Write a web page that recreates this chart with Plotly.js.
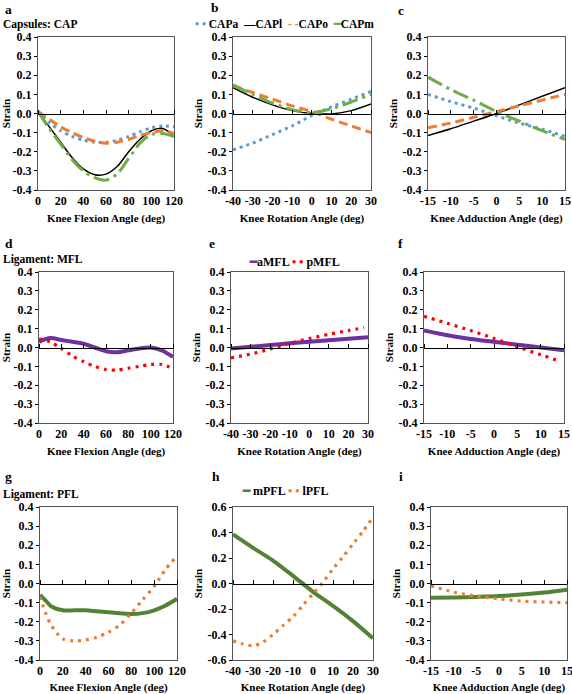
<!DOCTYPE html>
<html>
<head>
<meta charset="utf-8">
<script src="https://cdn.plot.ly/plotly-3.0.1.min.js"></script>
<style>html,body{margin:0;padding:0;background:#fff}</style>
</head>
<body>
<div id="chart" style="width:572px;height:694px"></div>
<script>
// ---------------- DATA ----------------
const flexX = [0,10,20,30,40,50,60,70,80,90,100,110,120];
const rotX  = [-40,-30,-20,-10,0,10,20,30];
const addX  = [-15,-10,-5,0,5,10,15];

// Panel a: capsules vs flexion
const capaA = [0.01,-0.047,-0.09,-0.12,-0.14,-0.15,-0.15,-0.14,-0.12,-0.095,-0.075,-0.065,-0.07];
const caplA = [0.01,-0.07,-0.15,-0.23,-0.29,-0.32,-0.317,-0.276,-0.20,-0.135,-0.09,-0.078,-0.117];
const capoA = [0.01,-0.03,-0.07,-0.10,-0.125,-0.145,-0.155,-0.15,-0.135,-0.115,-0.10,-0.09,-0.105];
const capmA = [0.01,-0.08,-0.16,-0.24,-0.30,-0.335,-0.348,-0.315,-0.235,-0.155,-0.11,-0.105,-0.12];

// Panel b: capsules vs rotation
const capaB = [-0.19,-0.155,-0.11,-0.065,-0.01,0.035,0.075,0.115];
const caplB = [0.135,0.085,0.045,0.015,0.0,-0.002,0.015,0.05];
const capoB = [0.145,0.11,0.075,0.04,0.01,-0.03,-0.065,-0.10];
const capmB = [0.15,0.10,0.055,0.02,0.005,0.025,0.06,0.10];

// Panel c: capsules vs adduction
const capaC = [0.10,0.062,0.028,-0.012,-0.05,-0.082,-0.12];
const caplC = [-0.115,-0.08,-0.04,0.0,0.045,0.09,0.135];
const capoC = [-0.075,-0.05,-0.02,0.01,0.04,0.07,0.10];
const capmC = [0.19,0.125,0.07,0.01,-0.04,-0.09,-0.135];

// Panel d: MFL vs flexion
const amflD = [0.03,0.05,0.04,0.03,0.02,0.0,-0.02,-0.025,-0.015,-0.005,0.0,-0.015,-0.05];
const pmflD = [0.045,0.03,-0.005,-0.045,-0.075,-0.10,-0.117,-0.12,-0.11,-0.10,-0.09,-0.09,-0.11];

// Panel e: MFL vs rotation
const amflE = [-0.005,0.004,0.013,0.022,0.03,0.038,0.046,0.055];
const pmflEX = [-40,-30,-20,-10,0,10,20,28];
const pmflE = [-0.055,-0.035,-0.008,0.022,0.047,0.07,0.09,0.105];

// Panel f: MFL vs adduction
const amflF = [0.09,0.065,0.045,0.03,0.015,0.0,-0.015];
const pmflFX = [-15,-10,-5,0,5,10,14];
const pmflF = [0.165,0.128,0.09,0.048,0.004,-0.038,-0.072];

// Panel g: PFL vs flexion
const flexGX = [0,5,10,20,30,40,50,60,70,80,90,100,110,120];
const mpflG = [-0.06,-0.09,-0.12,-0.14,-0.14,-0.14,-0.145,-0.15,-0.155,-0.16,-0.155,-0.14,-0.115,-0.08];
const lpflGX = [0,5,10,20,30,40,50,60,70,80,90,100,110,118];
const lpflG = [-0.07,-0.155,-0.22,-0.29,-0.30,-0.295,-0.28,-0.255,-0.216,-0.155,-0.085,-0.015,0.074,0.13];

// Panel h: PFL vs rotation
const mpflH = [0.385,0.28,0.18,0.06,-0.065,-0.175,-0.295,-0.43];
const lpflHX = [-40,-35,-30,-25,-20,-15,-10,-5,0,5,10,15,20,25,30];
const lpflH = [-0.45,-0.475,-0.488,-0.46,-0.40,-0.33,-0.26,-0.17,-0.08,0.01,0.115,0.21,0.31,0.41,0.52];

// Panel i: PFL vs adduction
const mpflI = [-0.075,-0.073,-0.07,-0.066,-0.058,-0.047,-0.032];
const lpflI = [-0.012,-0.045,-0.066,-0.08,-0.092,-0.097,-0.10];

// Tick labels
const flexTicks = [0,20,40,60,80,100,120];
const flexTickText = ['0','20','40','60','80','100','120'];
const rotTicks = [-40,-30,-20,-10,0,10,20,30];
const rotTickText = ['-40','-30','-20','-10','0','10','20','30'];
const addTicks = [-15,-10,-5,0,5,10,15];
const addTickText = ['-15','-10','-5','0','5','10','15'];
const strainTicks = [-0.4,-0.3,-0.2,-0.1,0,0.1,0.2,0.3,0.4];
const strainTickText = ['-0.4','-0.3','-0.2','-0.1','0.0','0.1','0.2','0.3','0.4'];
const strainTicksH = [-0.6,-0.4,-0.2,0,0.2,0.4,0.6];
const strainTickTextH = ['-0.6','-0.4','-0.2','0.0','0.2','0.4','0.6'];

const xTitles = ['Knee Flexion Angle (deg)','Knee Rotation Angle (deg)','Knee Adduction Angle (deg)'];
const panelLetters = ['a','b','c','d','e','f','g','h','i'];
const rowLabels = ['Capsules: CAP','Ligament: MFL','Ligament: PFL'];

// ---------------- STYLES ----------------
const W = 572, H = 694;
const FONT = 'Liberation Serif';
const C = {blue:'#5B9BD5', black:'#000000', orange:'#ED7D31', green:'#70AD47',
           purple:'#7030A0', red:'#FF0000', dgreen:'#548235'};
const ST = {
  CAPa:{color:C.blue, width:3, dash:'3px,4px'},
  CAPl:{color:C.black, width:1.5, dash:'solid'},
  CAPo:{color:C.orange, width:3, dash:'9px,5px'},
  CAPm:{color:C.green, width:3, dash:'16px,5px,3px,5px'},
  aMFL:{color:C.purple, width:4, dash:'solid'},
  pMFL:{color:C.red, width:3.2, dash:'3px,5px'},
  mPFL:{color:C.dgreen, width:4, dash:'solid'},
  lPFL:{color:C.orange, width:3.2, dash:'3px,5px'}
};

// panel pixel boxes [left, right, top, bottom]
const boxes = [
  [38,174,37,190],[233,371,37,190],[428,565,37,190],
  [39,173,272,423],[231,368,272,423],[424,564,272,423],
  [40,177,507,660],[233,373,507,660],[431,567,507,660]
];

// ---------------- TRACES ----------------
const traces = [];
function add(p, name, x, y) {
  const s = ST[name];
  traces.push({type:'scatter', mode:'lines', name:name, x:x, y:y,
    xaxis:'x'+p, yaxis:'y'+p, showlegend:false, hoverinfo:'x+y+name',
    line:{color:s.color, width:s.width, dash:s.dash, shape:'spline', smoothing:0.8}});
}
add(1,'CAPa',flexX,capaA); add(1,'CAPl',flexX,caplA); add(1,'CAPo',flexX,capoA); add(1,'CAPm',flexX,capmA);
add(2,'CAPa',rotX,capaB); add(2,'CAPl',rotX,caplB); add(2,'CAPo',rotX,capoB); add(2,'CAPm',rotX,capmB);
add(3,'CAPa',addX,capaC); add(3,'CAPl',addX,caplC); add(3,'CAPo',addX,capoC); add(3,'CAPm',addX,capmC);
add(4,'aMFL',flexX,amflD); add(4,'pMFL',flexX,pmflD);
add(5,'aMFL',rotX,amflE); add(5,'pMFL',pmflEX,pmflE);
add(6,'aMFL',addX,amflF); add(6,'pMFL',pmflFX,pmflF);
add(7,'mPFL',flexGX,mpflG); add(7,'lPFL',lpflGX,lpflG);
add(8,'mPFL',rotX,mpflH); add(8,'lPFL',lpflHX,lpflH);
add(9,'mPFL',addX,mpflI); add(9,'lPFL',addX,lpflI);

// ---------------- LAYOUT ----------------
const layout = {
  width:W, height:H, autosize:false,
  margin:{l:0,r:0,t:0,b:0},
  paper_bgcolor:'#fff', plot_bgcolor:'#fff',
  showlegend:false,
  font:{family:FONT, size:11.5, color:'#000'},
  annotations:[], shapes:[]
};
const tickFont = {family:FONT, size:12, color:'#000', weight:'bold'};
const titleFont = {family:FONT, size:11, color:'#000', weight:'bold'};

for (let p = 1; p <= 9; p++) {
  const [l, r, t, b] = boxes[p-1];
  const col = (p-1) % 3;
  const isH = (p === 8);
  const xr = col === 0 ? [0,120] : col === 1 ? [-40,30] : [-15,15];
  const xt = col === 0 ? flexTicks : col === 1 ? rotTicks : addTicks;
  const xtt = col === 0 ? flexTickText : col === 1 ? rotTickText : addTickText;
  const xd = [l/W, r/W];
  const yd = [1 - b/H, 1 - t/H];
  layout['xaxis'+p] = {
    domain:xd, range:xr, anchor:'y'+p, tickvals:xt, ticktext:xtt, ticks:'',
    showline:true, mirror:true, linecolor:'#555', linewidth:1,
    showgrid:false, zeroline:false, tickfont:tickFont, ticklabeloverflow:'allow',
    title:{text:xTitles[col], font:titleFont, standoff:6}, fixedrange:true
  };
  layout['yaxis'+p] = {
    domain:yd, range: isH ? [-0.6,0.6] : [-0.4,0.4], anchor:'x'+p,
    tickvals: isH ? strainTicksH : strainTicks,
    ticktext: isH ? strainTickTextH : strainTickText,
    ticks:'outside', ticklen:3, tickcolor:'#000', tickwidth:1,
    showline:true, mirror:true, linecolor:'#555', linewidth:1,
    showgrid:false, zeroline:false, tickfont:tickFont, ticklabeloverflow:'allow',
    title:{text:'Strain', font:titleFont, standoff:2}, fixedrange:true
  };
  // zero line axis with upward ticks
  const q = p + 9;
  layout['xaxis'+q] = {
    overlaying:'x'+p, anchor:'free', position:(yd[0]+yd[1])/2, side:'top',
    range:xr, tickvals:xt, ticks:'outside', ticklen:4, tickcolor:'#000', tickwidth:1,
    showticklabels:false, showline:true, linecolor:'#000', linewidth:1,
    showgrid:false, zeroline:false, fixedrange:true
  };
  traces.push({type:'scatter', mode:'lines', x:[], y:[], xaxis:'x'+q, yaxis:'y'+p,
    showlegend:false, hoverinfo:'skip'});
}

// panel letters
const letterPos = [[4,9],[210,8],[397,11],[4,244],[208,244],[397,244],[4,477],[211,477],[398,477]];
letterPos.forEach((pos, k) => {
  layout.annotations.push({xref:'paper', yref:'paper', x:pos[0]/W, y:1-pos[1]/H,
    xanchor:'left', yanchor:'middle', showarrow:false, text:'<b>'+panelLetters[k]+'</b>',
    font:{family:FONT, size:13.5, color:'#000'}, borderpad:0});
});
// row labels
[[25],[259],[494]].forEach((pos, k) => {
  layout.annotations.push({xref:'paper', yref:'paper', x:2/W, y:1-pos[0]/H,
    xanchor:'left', yanchor:'middle', showarrow:false, text:rowLabels[k],
    font:{family:FONT, size:11.5, color:'#000', weight:'bold'}, borderpad:0});
});
// legends (as styled text)
function sp(color, s) { return '<b><span style="color:'+color+'">'+s+'</span></b>'; }
const legB = sp(C.blue,'• •')+' CAPa  '+sp(C.black,'—')+'CAPl  '+sp(C.orange,'- -')+'CAPo  '+sp(C.green,'━')+'CAPm';
const legE = sp(C.purple,'━')+'aMFL '+sp(C.red,'• • ')+'pMFL';
const legH = sp(C.dgreen,'━')+' mPFL '+sp(C.orange,'• • ')+'lPFL';
[[legB,284,24,11.5],[legE,294,262,12],[legH,285,491,12]].forEach(a => {
  layout.annotations.push({xref:'paper', yref:'paper', x:a[1]/W, y:1-a[2]/H,
    xanchor:'center', yanchor:'middle', showarrow:false, text:a[0],
    font:{family:FONT, size:a[3], color:'#000', weight:'bold'}, borderpad:0});
});

Plotly.newPlot('chart', traces, layout, {staticPlot:true, displayModeBar:false});
</script>
</body>
</html>
